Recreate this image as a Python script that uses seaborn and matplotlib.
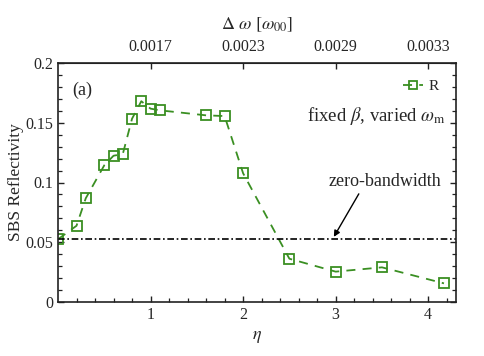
import numpy as np
import pandas as pd
import matplotlib
matplotlib.use("Agg")
import matplotlib.pyplot as plt
import seaborn as sns

eta = [0.0, 0.2, 0.3, 0.5, 0.6, 0.7, 0.8, 0.9, 1.0, 1.1, 1.6, 1.8, 2.0, 2.5, 3.0, 3.5, 4.17]
refl = [0.0525, 0.0638, 0.0868, 0.1144, 0.1224, 0.1238, 0.1534, 0.168, 0.1618, 0.1604,
        0.1562, 0.1556, 0.1077, 0.0362, 0.0254, 0.029, 0.0156]
zero_bw = 0.0525
top_ticks = [1, 2, 3, 4]
top_labels = ["0.0017", "0.0023", "0.0029", "0.0033"]

sns.set_style("ticks")
plt.rcParams["font.family"] = ["Liberation Serif", "DejaVu Serif"]
plt.rcParams["mathtext.fontset"] = "stix"
plt.rcParams["xtick.direction"] = "in"
plt.rcParams["ytick.direction"] = "in"

green = "#3a8f22"
df = pd.DataFrame({"eta": eta, "R": refl})

fig = plt.figure(figsize=(4.85, 3.56), dpi=100)
ax = fig.add_axes([58/485, 1-302/356, (456-58)/485, (302-63)/356])

sns.lineplot(data=df, x="eta", y="R", ax=ax, color=green, marker="s", markersize=6.5,
             markerfacecolor="none", markeredgecolor=green, markeredgewidth=1.3,
             linewidth=1.3, label="R")
ax.lines[0].set_dashes([5, 4])
ax.axhline(zero_bw, color="black", linestyle=(0, (4, 1.6, 1, 1.6)), linewidth=1.2)

ax.set_xlim(0, 4.3)
ax.set_ylim(0, 0.2)
ax.set_xticks([1, 2, 3, 4])
ax.set_xticklabels(["1", "2", "3", "4"])
ax.set_yticks([0, 0.05, 0.1, 0.15, 0.2])
ax.set_yticklabels(["0", "0.05", "0.1", "0.15", "0.2"])
ax.set_xticks(np.arange(0.2, 4.3, 0.2), minor=True)
ax.set_yticks(np.arange(0, 0.201, 0.01), minor=True)
ax.tick_params(which="major", top=False, right=True, labelsize=11.5, length=4.5, width=1,
               color="#222222")
ax.tick_params(which="minor", top=False, right=True, length=3, width=0.9, color="#222222")
for s in ax.spines.values():
    s.set_linewidth(1.2)
    s.set_color("#222222")

ax.set_xlabel(r"$\eta$", fontsize=13)
ax.set_ylabel("SBS Reflectivity", fontsize=12.5, labelpad=1)

top = ax.secondary_xaxis("top")
top.set_xticks(top_ticks)
top.set_xticklabels(top_labels)
top.tick_params(direction="in", labelsize=11.5, length=4.5, width=1, pad=6, color="#222222")
top.set_xlabel(r"$\Delta\ \omega\ [\omega_{00}]$", fontsize=13, labelpad=7)

leg = ax.legend(loc="upper right", frameon=False, fontsize=11, handlelength=1.3,
                handletextpad=0.4, borderaxespad=0.7, markerscale=0.8)

ax.text(0.035, 0.92, "(a)", transform=ax.transAxes, fontsize=13, va="top", ha="left")
ax.text(0.975, 0.78, r"fixed $\beta$, varied $\omega_{\rm m}$", transform=ax.transAxes,
        fontsize=13.5, va="center", ha="right")
ax.text(3.535, 0.094, "zero-bandwidth", fontsize=13, ha="center", va="bottom")
ax.annotate("", xy=(2.98, 0.0545), xytext=(3.25, 0.0905),
            arrowprops=dict(arrowstyle="-|>", color="black", lw=1.0, mutation_scale=9,
                            shrinkA=0, shrinkB=0))

fig.savefig("out.png", dpi=100)
